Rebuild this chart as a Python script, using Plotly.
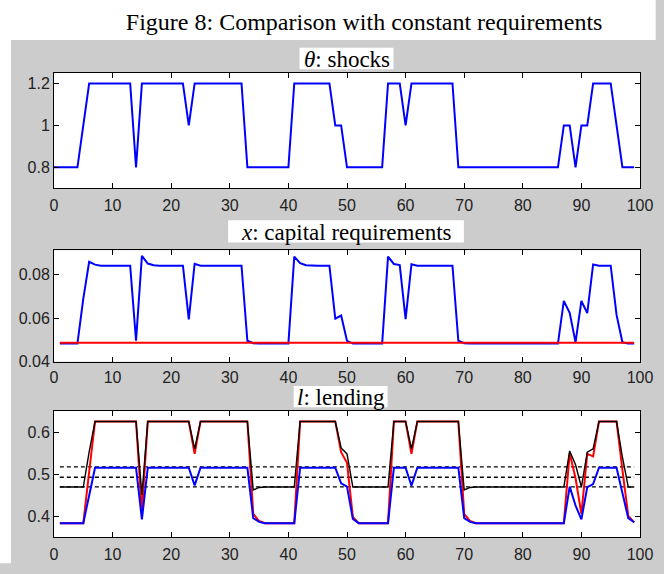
import plotly.graph_objects as go

# ---------------- data ----------------
t_theta = list(range(0, 100))
theta = [
    0.8, 0.8, 0.8, 0.8, 0.8,
    1.0,
    1.2, 1.2, 1.2, 1.2, 1.2, 1.2, 1.2, 1.2,
    0.8,
    1.2, 1.2, 1.2, 1.2, 1.2, 1.2, 1.2, 1.2,
    1.0,
    1.2, 1.2, 1.2, 1.2, 1.2, 1.2, 1.2, 1.2, 1.2,
    0.8, 0.8, 0.8, 0.8, 0.8, 0.8, 0.8, 0.8,
    1.2, 1.2, 1.2, 1.2, 1.2, 1.2, 1.2,
    1.0, 1.0,
    0.8, 0.8, 0.8, 0.8, 0.8, 0.8, 0.8,
    1.2, 1.2, 1.2,
    1.0,
    1.2, 1.2, 1.2, 1.2, 1.2, 1.2, 1.2, 1.2,
    0.8, 0.8, 0.8, 0.8, 0.8, 0.8, 0.8, 0.8, 0.8, 0.8, 0.8, 0.8, 0.8, 0.8, 0.8, 0.8, 0.8, 0.8,
    1.0, 1.0,
    0.8,
    1.0, 1.0,
    1.2, 1.2, 1.2, 1.2,
    1.0,
    0.8, 0.8, 0.8,
]

t = list(range(1, 100))
x_req = [
    0.0483, 0.0483, 0.0483, 0.0483,
    0.0690, 0.0859, 0.0846,
    0.0841, 0.0841, 0.0841, 0.0841, 0.0841, 0.0841,
    0.0496, 0.0886, 0.0851, 0.0843,
    0.0841, 0.0841, 0.0841, 0.0841, 0.0841,
    0.0594, 0.0850,
    0.0841, 0.0841, 0.0841, 0.0841, 0.0841, 0.0841, 0.0841, 0.0841,
    0.0496, 0.0485,
    0.0483, 0.0483, 0.0483, 0.0483, 0.0483, 0.0483,
    0.0883, 0.0853, 0.0843,
    0.0841, 0.0841, 0.0841, 0.0841,
    0.0598, 0.0612, 0.0496,
    0.0483, 0.0483, 0.0483, 0.0483, 0.0483, 0.0483,
    0.0883, 0.0849, 0.0844, 0.0596, 0.0848,
    0.0841, 0.0841, 0.0841, 0.0841, 0.0841, 0.0841, 0.0841,
    0.0496, 0.0485,
    0.0483, 0.0483, 0.0483, 0.0483, 0.0483, 0.0483, 0.0483, 0.0483,
    0.0483, 0.0483, 0.0483, 0.0483, 0.0483, 0.0483, 0.0483, 0.0483,
    0.0679, 0.0624, 0.0489, 0.0679, 0.0623, 0.0847,
    0.0841, 0.0841, 0.0841,
    0.0615, 0.0489,
    0.0483, 0.0483,
]
x_const = 0.0487

lend_red = [
    0.383, 0.383, 0.383, 0.383, 0.383,
    0.505,
    0.625, 0.625, 0.625, 0.625, 0.625, 0.625, 0.625, 0.625,
    0.410,
    0.625, 0.625, 0.625, 0.625, 0.625, 0.625, 0.625, 0.625,
    0.548,
    0.625, 0.625, 0.625, 0.625, 0.625, 0.625, 0.625, 0.625, 0.625,
    0.405, 0.388,
    0.383, 0.383, 0.383, 0.383, 0.383, 0.383,
    0.625, 0.625, 0.625, 0.625, 0.625, 0.625, 0.625,
    0.552, 0.527, 0.398,
    0.383, 0.383, 0.383, 0.383, 0.383, 0.383,
    0.625, 0.625, 0.625,
    0.548,
    0.625, 0.625, 0.625, 0.625, 0.625, 0.625, 0.625, 0.625,
    0.405, 0.388,
    0.383, 0.383, 0.383, 0.383, 0.383, 0.383, 0.383, 0.383,
    0.383, 0.383, 0.383, 0.383, 0.383, 0.383, 0.383, 0.383,
    0.550, 0.490, 0.405, 0.548, 0.542,
    0.625, 0.625, 0.625, 0.625,
    0.510, 0.400, 0.385,
]
lend_blue = [
    0.383, 0.383, 0.383, 0.383, 0.383,
    0.449,
    0.515, 0.515, 0.515, 0.515, 0.515, 0.515, 0.515, 0.515,
    0.392,
    0.515, 0.515, 0.515, 0.515, 0.515, 0.515, 0.515, 0.515,
    0.473,
    0.515, 0.515, 0.515, 0.515, 0.515, 0.515, 0.515, 0.515, 0.515,
    0.395, 0.386,
    0.383, 0.383, 0.383, 0.383, 0.383, 0.383,
    0.515, 0.515, 0.515, 0.515, 0.515, 0.515, 0.515,
    0.478, 0.470, 0.393,
    0.383, 0.383, 0.383, 0.383, 0.383, 0.383,
    0.515, 0.515, 0.515,
    0.472,
    0.515, 0.515, 0.515, 0.515, 0.515, 0.515, 0.515, 0.515,
    0.395, 0.386,
    0.383, 0.383, 0.383, 0.383, 0.383, 0.383, 0.383, 0.383,
    0.383, 0.383, 0.383, 0.383, 0.383, 0.383, 0.383, 0.383,
    0.470, 0.425, 0.392, 0.469, 0.476,
    0.515, 0.515, 0.515, 0.515,
    0.455, 0.395, 0.385,
]
lend_black = [
    0.469, 0.469, 0.469, 0.469, 0.469,
    0.553,
    0.625, 0.625, 0.625, 0.625, 0.625, 0.625, 0.625, 0.625,
    0.450,
    0.625, 0.625, 0.625, 0.625, 0.625, 0.625, 0.625, 0.625,
    0.560,
    0.625, 0.625, 0.625, 0.625, 0.625, 0.625, 0.625, 0.625, 0.625,
    0.462, 0.468,
    0.469, 0.469, 0.469, 0.469, 0.469, 0.469,
    0.625, 0.625, 0.625, 0.625, 0.625, 0.625, 0.625,
    0.562, 0.548, 0.469,
    0.469, 0.469, 0.469, 0.469, 0.469, 0.469,
    0.625, 0.625, 0.625,
    0.560,
    0.625, 0.625, 0.625, 0.625, 0.625, 0.625, 0.625, 0.625,
    0.462, 0.468,
    0.469, 0.469, 0.469, 0.469, 0.469, 0.469, 0.469, 0.469,
    0.469, 0.469, 0.469, 0.469, 0.469, 0.469, 0.469, 0.469,
    0.555, 0.522, 0.469, 0.552, 0.560,
    0.625, 0.625, 0.625, 0.625,
    0.540, 0.469, 0.469,
]
ref_levels = [0.517, 0.4925, 0.4695]

x_ticks = [0, 10, 20, 30, 40, 50, 60, 70, 80, 90, 100]
y1_ticks = [0.8, 1, 1.2]
y2_ticks = [0.04, 0.06, 0.08]
y3_ticks = [0.4, 0.5, 0.6]

main_title = "Figure 8: Comparison with constant requirements"
sub_titles = ["<i>θ</i>: shocks", "<i>x</i>: capital requirements", "<i>l</i>: lending"]

# ---------------- layout helpers ----------------
W, H = 664, 574
ML, MR, MT, MB = 54, 11, 73, 22
PW = W - ML - MR
PH = H - MT - MB


def px(x):
    return (x - ML) / PW


def py(y):
    return (H - MB - y) / PH


BLUE = "#0000ff"
RED = "#ff0000"
GRAY = "#cccccc"

fig = go.Figure()

# panel 1
fig.add_trace(go.Scatter(x=t_theta, y=theta, mode="lines",
                         line=dict(color=BLUE, width=2), xaxis="x", yaxis="y"))
# panel 2
fig.add_trace(go.Scatter(x=t, y=x_req, mode="lines",
                         line=dict(color=BLUE, width=2), xaxis="x2", yaxis="y2"))
fig.add_trace(go.Scatter(x=t, y=[x_const] * len(t), mode="lines",
                         line=dict(color=RED, width=1.8), xaxis="x2", yaxis="y2"))
# panel 3
for lv in ref_levels:
    fig.add_trace(go.Scatter(x=t, y=[lv] * len(t), mode="lines",
                             line=dict(color="black", width=1.4, dash="4px,3px"),
                             xaxis="x3", yaxis="y3"))
fig.add_trace(go.Scatter(x=t, y=lend_red, mode="lines",
                         line=dict(color=RED, width=2), xaxis="x3", yaxis="y3"))
fig.add_trace(go.Scatter(x=t, y=lend_black, mode="lines",
                         line=dict(color="black", width=1.4), xaxis="x3", yaxis="y3"))
fig.add_trace(go.Scatter(x=t, y=lend_blue, mode="lines",
                         line=dict(color=BLUE, width=2), xaxis="x3", yaxis="y3"))

tickfont = dict(family="Liberation Sans, Arial, sans-serif", size=16, color="#222222")
common = dict(showline=True, linecolor="black", linewidth=1, mirror="ticks",
              ticks="inside", ticklen=5, tickcolor="black", tickwidth=1,
              showgrid=False, zeroline=False, tickfont=tickfont)
xcommon = dict(common, ticklabeloverflow="allow", ticklabelstandoff=3)
xcommon2 = dict(common, ticklabeloverflow="allow", ticklabelstandoff=1)

doms = [(py(192), py(73)), (py(371), py(256)), (py(552), py(422))]

layout = dict(
    width=W, height=H,
    margin=dict(l=ML, r=MR, t=MT, b=MB, pad=0),
    paper_bgcolor=GRAY, plot_bgcolor="white",
    showlegend=False,
    title=dict(text=main_title, x=px(371), xref="paper", xanchor="center",
               y=1 - 22 / H, yref="container", yanchor="middle",
               font=dict(family="Liberation Serif, Times New Roman, serif", size=24, color="black")),
    xaxis=dict(domain=[0, 1], anchor="y", range=[0, 100], tickvals=x_ticks, **xcommon),
    yaxis=dict(domain=list(doms[0]), anchor="x", range=[0.7, 1.25], tickvals=y1_ticks, **common),
    xaxis2=dict(domain=[0, 1], anchor="y2", range=[0, 100], tickvals=x_ticks, **xcommon2),
    yaxis2=dict(domain=list(doms[1]), anchor="x2", range=[0.04, 0.0912], tickvals=y2_ticks, **common),
    xaxis3=dict(domain=[0, 1], anchor="y3", range=[0, 100], tickvals=x_ticks, **xcommon),
    yaxis3=dict(domain=list(doms[2]), anchor="x3", range=[0.35, 0.65], tickvals=y3_ticks, **common),
)
fig.update_layout(**layout)

shapes = [
    # white page strip at top and left
    dict(type="rect", xref="paper", yref="paper", x0=px(-5), x1=px(W + 5), y0=py(39), y1=py(-5),
         fillcolor="white", line=dict(width=0), layer="below"),
    dict(type="rect", xref="paper", yref="paper", x0=px(-5), x1=px(10), y0=py(H + 5), y1=py(39),
         fillcolor="white", line=dict(width=0), layer="below"),
]
boxes = [(305, 401, 47, 69), (232, 473, 225, 248), (299, 395, 396, 418)]
annotations = []
for (x0, x1, y0, y1), txt in zip(boxes, sub_titles):
    shapes.append(dict(type="rect", xref="paper", yref="paper", x0=px(x0), x1=px(x1),
                       y0=py(y1), y1=py(y0), fillcolor="white", line=dict(width=0), layer="below"))
    annotations.append(dict(text=txt, xref="paper", yref="paper",
                            x=px((x0 + x1) / 2), y=py((y0 + y1) / 2 + 1),
                            xanchor="center", yanchor="middle", showarrow=False,
                            font=dict(family="Liberation Serif, Times New Roman, serif", size=23, color="black")))
fig.update_layout(shapes=shapes, annotations=annotations)

fig.write_html("out.html")
